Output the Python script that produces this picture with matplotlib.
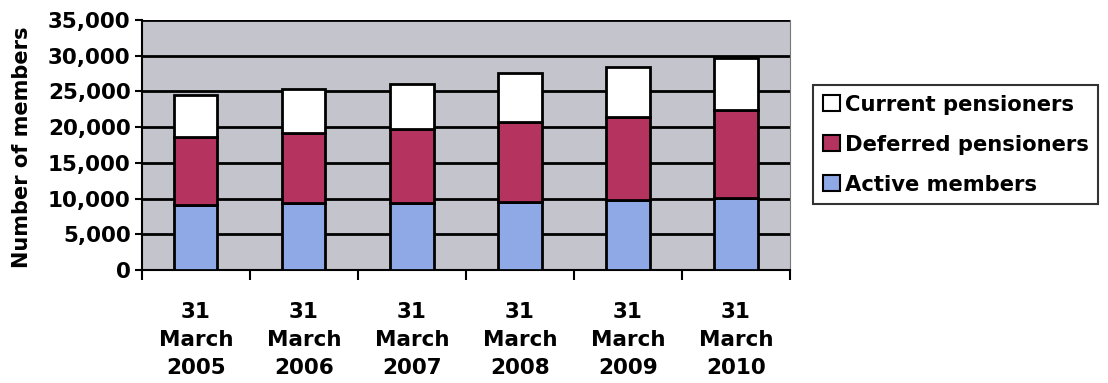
import matplotlib
matplotlib.use("Agg")
import matplotlib.pyplot as plt
import numpy as np
from matplotlib.patches import Patch

categories = ["31\nMarch\n2005", "31\nMarch\n2006", "31\nMarch\n2007",
              "31\nMarch\n2008", "31\nMarch\n2009", "31\nMarch\n2010"]
active = [9100, 9400, 9400, 9500, 9800, 10100]
deferred = [9500, 9800, 10300, 11200, 11600, 12300]
current = [5900, 6100, 6300, 6900, 7000, 7300]

plt.rcParams['font.family'] = ['DejaVu Sans']
plt.rcParams['font.weight'] = 'bold'

fig = plt.figure(figsize=(11.08, 3.83), dpi=100)
ax = fig.add_axes([0.128, 0.295, 0.585, 0.653])
ax.set_facecolor('#c3c4cc')

x = np.arange(len(categories))
w = 0.4
c_active = '#8fa8e6'
c_def = '#b5335f'
c_cur = '#ffffff'
ax.bar(x, active, w, color=c_active, edgecolor='black', linewidth=2, zorder=3)
ax.bar(x, deferred, w, bottom=active, color=c_def, edgecolor='black', linewidth=2, zorder=3)
bot2 = np.array(active) + np.array(deferred)
ax.bar(x, current, w, bottom=bot2, color=c_cur, edgecolor='black', linewidth=2, zorder=3)

ax.set_xlim(-0.5, len(categories) - 0.5)
ax.set_ylim(0, 35000)
ax.set_yticks(np.arange(0, 35001, 5000))
ax.set_yticklabels([f"{v:,}" for v in range(0, 35001, 5000)], fontsize=15.5, fontweight='bold')
ax.yaxis.grid(True, color='black', linewidth=2, zorder=1)
ax.set_axisbelow(True)

ax.set_xticks(x)
ax.set_xticklabels(categories, fontsize=15.5, fontweight='bold', linespacing=1.5)
ax.tick_params(axis='x', length=0, pad=23)
ax.set_xticks(np.arange(-0.5, len(categories) + 0.5, 1), minor=True)
ax.tick_params(axis='x', which='minor', length=7, width=1.5, direction='out')
ax.tick_params(axis='y', length=5, width=1.5, direction='out', pad=3)

ax.spines['left'].set_linewidth(1.5)
ax.spines['bottom'].set_linewidth(1.5)
ax.spines['top'].set_visible(False)
ax.spines['right'].set_color('#777777')

ax.set_ylabel("Number of members", fontsize=15, fontweight='bold')
ax.yaxis.set_label_coords(-0.170, 0.49)

handles = [Patch(facecolor=c_cur, edgecolor='black', linewidth=1.5, label='Current pensioners'),
           Patch(facecolor=c_def, edgecolor='black', linewidth=1.5, label='Deferred pensioners'),
           Patch(facecolor=c_active, edgecolor='black', linewidth=1.5, label='Active members')]
leg = fig.legend(handles=handles, loc='upper left', bbox_to_anchor=(0.734, 0.778),
                 prop={'size': 15.2, 'weight': 'bold'}, handlelength=0.8, handleheight=0.8,
                 handletextpad=0.25, labelspacing=0.95, borderpad=0.45, borderaxespad=0,
                 frameon=True, fancybox=False, edgecolor='black')
leg.get_frame().set_linewidth(1.5)

fig.savefig("out.png", dpi=100)
